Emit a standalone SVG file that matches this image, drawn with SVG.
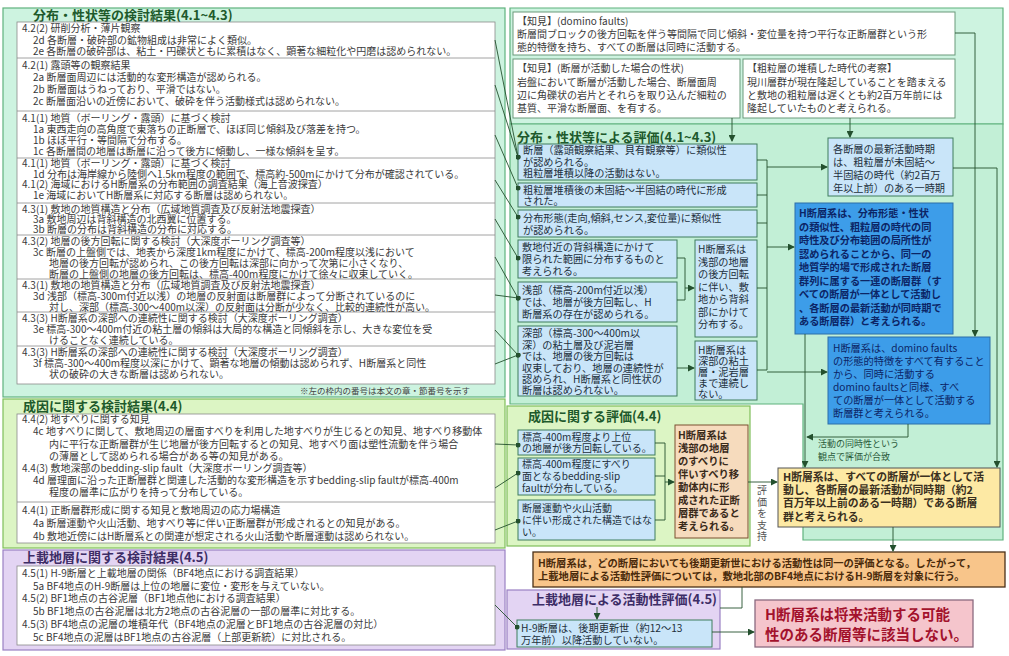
<svg xmlns="http://www.w3.org/2000/svg" width="1009" height="656" viewBox="0 0 1009 656">
<defs>
<marker id="dot" viewBox="0 0 6 6" refX="3" refY="3" markerWidth="5" markerHeight="5" markerUnits="userSpaceOnUse"><circle cx="3" cy="3" r="3" fill="#24502e"/></marker>
<marker id="arr" viewBox="0 0 8 8" refX="7" refY="4" markerWidth="7" markerHeight="7" markerUnits="userSpaceOnUse" orient="auto"><path d="M0,0 L8,4 L0,8 z" fill="#24502e"/></marker>
</defs>
<style>
text { font-family: "Noto Sans CJK JP", "Noto Sans", sans-serif; }
.t { font-size: 10px; fill: #3a3a3a; }
.tb { font-size: 10.2px; fill: #22303c; }
.s { font-size: 8.5px; fill: #444; }
.h { font-size: 13px; font-weight: bold; fill: #1e5a2c; }
.hp { font-size: 13px; font-weight: bold; fill: #3d2d66; }
.pg { fill: #cdf3e0; stroke: #5fb27d; stroke-width: 1.2; }
.pg2 { fill: #c2efd6; stroke: #5fb27d; stroke-width: 1.2; }
.py { fill: #dcf5c4; stroke: #7fbf5a; stroke-width: 1.2; }
.pl { fill: #e3d4f3; stroke: #9a80c4; stroke-width: 1.2; }
.wb { fill: #fff; stroke: #8a8a8a; stroke-width: 0.8; }
.kb { fill: #fff; stroke: #6a9a7a; stroke-width: 1; }
.dv { stroke: #8a8a8a; stroke-width: 0.8; }
.bl { fill: #c9e5f9; stroke: #3f7d5c; stroke-width: 1; }
.bd { fill: #3d9de9; stroke: #2c6ea8; stroke-width: 1; }
.c { fill: none; stroke: #24502e; stroke-width: 0.9; }
</style>

<!-- Left panel 1 -->
<g id="left-distribution">
<rect class="pg" x="3" y="8" width="502" height="389"/>
<text class="h" x="33" y="20">分布・性状等の検討結果(4.1~4.3)</text>
<rect class="wb" x="17" y="22" width="478" height="362"/>
<line class="dv" x1="17" y1="58" x2="495" y2="58"/>
<line class="dv" x1="17" y1="111" x2="495" y2="111"/>
<line class="dv" x1="17" y1="158" x2="495" y2="158"/>
<line class="dv" x1="17" y1="203" x2="495" y2="203"/>
<line class="dv" x1="17" y1="235" x2="495" y2="235"/>
<line class="dv" x1="17" y1="279" x2="495" y2="279"/>
<line class="dv" x1="17" y1="312" x2="495" y2="312"/>
<line class="dv" x1="17" y1="346" x2="495" y2="346"/>
<text class="t" x="22" y="32">4.2(2) 研削分析・薄片観察</text>
<text class="t" x="33" y="43.5">2d 各断層・破砕部の鉱物組成は非常によく類似。</text>
<text class="t" x="33" y="55">2e 各断層の破砕部は、粘土・円礫状ともに累積はなく、顕著な細粒化や円磨は認められない。</text>
<text class="t" x="22" y="69">4.2(1) 露頭等の観察結果</text>
<text class="t" x="33" y="81">2a 断層面周辺には活動的な変形構造が認められる。</text>
<text class="t" x="33" y="93">2b 断層面はうねっており、平滑ではない。</text>
<text class="t" x="33" y="105">2c 断層面沿いの近傍において、破砕を伴う活動様式は認められない。</text>
<text class="t" x="22" y="122">4.1(1) 地質（ボーリング・露頭）に基づく検討</text>
<text class="t" x="33" y="133">1a 東西走向の高角度で東落ちの正断層で、ほぼ同じ傾斜及び落差を持つ。</text>
<text class="t" x="33" y="144">1b ほぼ平行・等間隔で分布する。</text>
<text class="t" x="33" y="155">1c 各断層間の地層は断層に沿って後方に傾動し、一様な傾斜を呈す。</text>
<text class="t" x="22" y="167">4.1(1) 地質（ボーリング・露頭）に基づく検討</text>
<text class="t" x="33" y="177.5">1d 分布は海岸線から陸側へ1.5km程度の範囲で、標高約-500mにかけて分布が確認されている。</text>
<text class="t" x="22" y="188">4.1(2) 海域におけるH断層系の分布範囲の調査結果（海上音波探査）</text>
<text class="t" x="33" y="198.5">1e 海域においてH断層系に対応する断層は認められない。</text>
<text class="t" x="22" y="212.5">4.3(1) 敷地の地質構造と分布（広域地質調査及び反射法地震探査）</text>
<text class="t" x="33" y="223">3a 敷地周辺は背斜構造の北西翼に位置する。</text>
<text class="t" x="33" y="233">3b 断層の分布は背斜構造の分布に対応する。</text>
<text class="t" x="22" y="245">4.3(2) 地層の後方回転に関する検討（大深度ボーリング調査等）</text>
<text class="t" x="33" y="256">3c 断層の上盤側では、地表から深度1km程度にかけて、標高-200m程度以浅において</text>
<text class="t" x="49" y="267">地層の後方回転が認められ、この後方回転は深部に向かって次第に小さくなり、</text>
<text class="t" x="49" y="278">断層の上盤側の地層の後方回転は、標高-400m程度にかけて徐々に収束していく。</text>
<text class="t" x="22" y="289">4.3(1) 敷地の地質構造と分布（広域地質調査及び反射法地震探査）</text>
<text class="t" x="33" y="300">3d 浅部（標高-300m付近以浅）の地層の反射面は断層群によって分断されているのに</text>
<text class="t" x="49" y="311">対し、深部（標高-300～400m以深）の反射面は分断が少なく、比較的連続性が高い。</text>
<text class="t" x="22" y="322">4.3(3) H断層系の深部への連続性に関する検討（大深度ボーリング調査）</text>
<text class="t" x="33" y="333">3e 標高-300～400m付近の粘土層の傾斜は大局的な構造と同傾斜を示し、大きな変位を受</text>
<text class="t" x="49" y="344">けることなく連続している。</text>
<text class="t" x="22" y="356">4.3(3) H断層系の深部への連続性に関する検討（大深度ボーリング調査）</text>
<text class="t" x="33" y="367">3f 標高-300～400m程度以深にかけて、顕著な地層の傾動は認められず、H断層系と同性</text>
<text class="t" x="49" y="378">状の破砕の大きな断層は認められない。</text>
<text class="s" x="300" y="393.5">※左の枠内の番号は本文の章・節番号を示す</text>
</g>

<!-- Left panel 2 -->
<g id="left-origin">
<rect class="py" x="3" y="399" width="502" height="149"/>
<text class="h" x="23" y="411">成因に関する検討結果(4.4)</text>
<rect class="wb" x="17" y="414" width="478" height="129"/>
<line class="dv" x1="17" y1="502" x2="495" y2="502"/>
<text class="t" x="22" y="423">4.4(2) 地すべりに関する知見</text>
<text class="t" x="33" y="435">4c 地すべりに関して、敷地周辺の層面すべりを利用した地すべりが生じるとの知見、地すべり移動体</text>
<text class="t" x="49" y="447.5">内に平行な正断層群が生じ地層が後方回転するとの知見、地すべり面は塑性流動を伴う場合</text>
<text class="t" x="49" y="460">の薄層として認められる場合がある等の知見がある。</text>
<text class="t" x="22" y="472">4.4(3) 敷地深部のbedding-slip fault（大深度ボーリング調査等）</text>
<text class="t" x="33" y="484">4d 層理面に沿った正断層群と関連した活動的な変形構造を示すbedding-slip faultが標高-400m</text>
<text class="t" x="49" y="496">程度の層準に広がりを持って分布している。</text>
<text class="t" x="22" y="514">4.4(1) 正断層群形成に関する知見と敷地周辺の応力場構造</text>
<text class="t" x="33" y="527">4a 断層運動や火山活動、地すべり等に伴い正断層群が形成されるとの知見がある。</text>
<text class="t" x="33" y="540">4b 敷地近傍にはH断層系との関連が想定される火山活動や断層運動は認められない。</text>
</g>

<!-- Left panel 3 -->
<g id="left-overlying">
<rect class="pl" x="3" y="550" width="502" height="100"/>
<text class="hp" x="23" y="562">上載地層に関する検討結果(4.5)</text>
<rect class="wb" x="17" y="566" width="478" height="79"/>
<text class="t" x="22" y="577">4.5(1) H-9断層と上載地層の関係（BF4地点における調査結果）</text>
<text class="t" x="33" y="589.5">5a BF4地点のH-9断層は上位の地層に変位・変形を与えていない。</text>
<text class="t" x="22" y="602">4.5(2) BF1地点の古谷泥層（BF1地点他における調査結果）</text>
<text class="t" x="33" y="615">5b BF1地点の古谷泥層は北方2地点の古谷泥層の一部の層準に対比する。</text>
<text class="t" x="22" y="628">4.5(3) BF4地点の泥層の堆積年代（BF4地点の泥層とBF1地点の古谷泥層の対比）</text>
<text class="t" x="33" y="641">5c BF4地点の泥層はBF1地点の古谷泥層（上部更新統）に対比される。</text>
</g>

<!-- Right big green panel -->
<g id="right-panel">
<path class="pg" d="M510,8 H1003 V124 H510 Z"/>
<path class="pg2" d="M510,124 H1003 V540 H803 V404 H510 Z"/>
<text class="h" x="517" y="142">分布・性状等による評価(4.1~4.3)</text>
</g>

<g id="k-domino">
<rect class="kb" x="513" y="12" width="442" height="43"/>
<text class="t" x="517" y="25">【知見】(domino faults)</text>
<text class="t" x="517" y="38">断層間ブロックの後方回転を伴う等間隔で同じ傾斜・変位量を持つ平行な正断層群という形</text>
<text class="t" x="517" y="51">態的特徴を持ち、すべての断層は同時に活動する。</text>
</g>
<g id="k-fault">
<rect class="kb" x="513" y="59" width="227" height="59"/>
<text class="t" x="517" y="72">【知見】(断層が活動した場合の性状)</text>
<text class="t" x="517" y="86">岩盤において断層が活動した場合、断層面周</text>
<text class="t" x="517" y="99">辺に角礫状の岩片とそれらを取り込んだ細粒の</text>
<text class="t" x="517" y="112">基質、平滑な断層面、を有する。</text>
</g>
<g id="k-coarse">
<rect class="kb" x="743" y="59" width="212" height="59"/>
<text class="t" x="747" y="72">【粗粒層の堆積した時代の考察】</text>
<text class="t" x="747" y="86">現川層群が現在隆起していることを踏まえる</text>
<text class="t" x="747" y="99">と敷地の粗粒層は遅くとも約2百万年前には</text>
<text class="t" x="747" y="112">隆起していたものと考えられる。</text>
</g>

<g id="b1"><rect class="bl" x="518" y="144" width="239" height="36"/>
<text class="tb" x="523" y="154">断層（露頭観察結果、貝有観察等）に類似性</text>
<text class="tb" x="523" y="165.5">が認められる。</text>
<text class="tb" x="523" y="177">粗粒層堆積以降の活動はない。</text></g>
<g id="b2"><rect class="bl" x="518" y="183" width="239" height="24"/>
<text class="tb" x="523" y="193.5">粗粒層堆積後の未固結～半固結の時代に形成</text>
<text class="tb" x="523" y="204.5">された。</text></g>
<g id="b3"><rect class="bl" x="518" y="210" width="239" height="27"/>
<text class="tb" x="523" y="221.5">分布形態(走向,傾斜,センス,変位量)に類似性</text>
<text class="tb" x="523" y="233.5">が認められる。</text></g>
<g id="b4"><rect class="bl" x="518" y="240" width="159" height="38"/>
<text class="tb" x="522" y="251">敷地付近の背斜構造にかけて</text>
<text class="tb" x="522" y="263">限られた範囲に分布するものと</text>
<text class="tb" x="522" y="275">考えられる。</text></g>
<g id="b5"><rect class="bl" x="518" y="282" width="159" height="40"/>
<text class="tb" x="522" y="294">浅部（標高-200m付近以浅）</text>
<text class="tb" x="522" y="306">では、地層が後方回転し、H</text>
<text class="tb" x="522" y="318">断層系の存在が認められる。</text></g>
<g id="b6"><rect class="bl" x="518" y="326" width="159" height="70"/>
<text class="tb" x="522" y="337">深部（標高-300～400m以</text>
<text class="tb" x="522" y="348.5">深）の粘土層及び泥岩層</text>
<text class="tb" x="522" y="360">では、地層の後方回転は</text>
<text class="tb" x="522" y="371.5">収束しており、地層の連続性が</text>
<text class="tb" x="522" y="383">認められ、H断層系と同性状の</text>
<text class="tb" x="522" y="394">断層は認められない。</text></g>
<g id="b7"><rect class="bl" x="695" y="240" width="62" height="97"/>
<text class="tb" x="698" y="253">H断層系は</text>
<text class="tb" x="698" y="265.5">浅部の地層</text>
<text class="tb" x="698" y="278">の後方回転</text>
<text class="tb" x="698" y="290.5">に伴い、敷</text>
<text class="tb" x="698" y="303">地から背斜</text>
<text class="tb" x="698" y="315.5">部にかけて</text>
<text class="tb" x="698" y="328">分布する。</text></g>
<g id="b8"><rect class="bl" x="695" y="341" width="62" height="59"/>
<text class="tb" x="698" y="354">H断層系は</text>
<text class="tb" x="698" y="365">深部の粘土</text>
<text class="tb" x="698" y="376">層・泥岩層</text>
<text class="tb" x="698" y="387">まで連続し</text>
<text class="tb" x="698" y="398">ない。</text></g>

<g id="r1"><rect class="bl" x="828" y="138" width="125" height="58"/>
<text class="tb" x="833" y="153">各断層の最新活動時期</text>
<text class="tb" x="833" y="166">は、粗粒層が未固結～</text>
<text class="tb" x="833" y="179">半固結の時代（約2百万</text>
<text class="tb" x="833" y="192">年以上前）のある一時期</text></g>
<g id="r2"><rect class="bd" x="795" y="203" width="158" height="131"/>
<g style="font-size:10.2px;font-weight:bold;fill:#0c2566">
<text x="799" y="217">H断層系は、分布形態・性状</text>
<text x="799" y="230.5">の類似性、粗粒層の時代の同</text>
<text x="799" y="244">時性及び分布範囲の局所性が</text>
<text x="799" y="257.5">認められることから、同一の</text>
<text x="799" y="271">地質学的場で形成された断層</text>
<text x="799" y="284.5">群列に属する一連の断層群（す</text>
<text x="799" y="298">べての断層が一体として活動し</text>
<text x="799" y="311.5">、各断層の最新活動が同時期で</text>
<text x="799" y="325">ある断層群）と考えられる。</text>
</g></g>
<g id="r3"><rect class="bd" x="828" y="337" width="162" height="87"/>
<g style="font-size:10.2px;fill:#0c2566">
<text x="833" y="352">H断層系は、domino faults</text>
<text x="833" y="365">の形態的特徴をすべて有すること</text>
<text x="833" y="378">から、同時に活動する</text>
<text x="833" y="391">domino faultsと同様、すべ</text>
<text x="833" y="404">ての断層が一体として活動する</text>
<text x="833" y="417">断層群と考えられる。</text>
</g></g>
<g id="note-sync"><text style="font-size:9px;fill:#2a5a3a" x="818" y="447">活動の同時性という</text>
<text style="font-size:9px;fill:#2a5a3a" x="818" y="460">観点で評価が合致</text></g>
<g id="r4"><rect x="778" y="468" width="222" height="59" fill="#fde9a4" stroke="#555" stroke-width="1"/>
<g style="font-size:10.8px;font-weight:bold;fill:#3a3020">
<text x="783" y="481">H断層系は、すべての断層が一体として活</text>
<text x="783" y="494">動し、各断層の最新活動が同時期（約2</text>
<text x="783" y="507">百万年以上前のある一時期）である断層</text>
<text x="783" y="521">群と考えられる。</text>
</g></g>

<g id="origin-eval">
<rect class="py" x="507" y="406" width="243" height="140"/>
<text class="h" x="528" y="421">成因に関する評価(4.4)</text>
</g>
<g id="c1"><rect class="bl" x="518" y="430" width="137" height="25"/>
<text class="tb" style="font-size:10px" x="522" y="440.5">標高-400m程度より上位</text>
<text class="tb" style="font-size:10px" x="522" y="452">の地層が後方回転している。</text></g>
<g id="c2"><rect class="bl" x="518" y="458" width="137" height="37"/>
<text class="tb" style="font-size:10px" x="522" y="468">標高-400m程度にすべり</text>
<text class="tb" style="font-size:10px" x="522" y="480">面となるbedding-slip</text>
<text class="tb" style="font-size:10px" x="522" y="492">faultが分布している。</text></g>
<g id="c3"><rect class="bl" x="518" y="500" width="137" height="40"/>
<text class="tb" style="font-size:10px" x="522" y="512">断層運動や火山活動</text>
<text class="tb" style="font-size:10px" x="522" y="524">に伴い形成された構造ではな</text>
<text class="tb" style="font-size:10px" x="522" y="536">い。</text></g>
<g id="c4"><rect x="675" y="425" width="73" height="113" fill="#f6dbbd" stroke="#7a5030" stroke-width="1"/>
<g style="font-size:10.3px;font-weight:bold;fill:#3a2a1a">
<text x="678" y="439">H断層系は</text>
<text x="678" y="452">浅部の地層</text>
<text x="678" y="465">のすべりに</text>
<text x="678" y="478">伴いすべり移</text>
<text x="678" y="491">動体内に形</text>
<text x="678" y="504">成された正断</text>
<text x="678" y="517">層群であると</text>
<text x="678" y="530">考えられる。</text>
</g></g>
<g id="support-label"><text style="font-size:10px;fill:#555">
<tspan x="757" y="494">評</tspan><tspan x="757" y="505.5">価</tspan><tspan x="757" y="517">を</tspan><tspan x="757" y="528.5">支</tspan><tspan x="757" y="540">持</tspan></text></g>

<g id="conclusion-orange"><rect x="533" y="552" width="472" height="35" fill="#f8c58a" stroke="#4a3018" stroke-width="1.3"/>
<g style="font-size:10.3px;font-weight:bold;fill:#4a2a0a">
<text x="538" y="567">H断層系は，どの断層においても後期更新世における活動性は同一の評価となる。したがって，</text>
<text x="538" y="580">上載地層による活動性評価については，敷地北部のBF4地点におけるH-9断層を対象に行う。</text>
</g></g>

<g id="overlying-eval">
<rect class="pl" x="507" y="590" width="213" height="59"/>
<text class="hp" x="532" y="604">上載地層による活動性評価(4.5)</text>
</g>
<g id="d1"><rect class="bl" x="517" y="620" width="195" height="27"/>
<text class="tb" x="521" y="631.5">H-9断層は、後期更新世（約12～13</text>
<text class="tb" x="521" y="644">万年前）以降活動していない。</text></g>
<g id="final"><rect x="755" y="600" width="218" height="47" fill="#f5c5cc" stroke="#8a6a80" stroke-width="1.3"/>
<text style="font-size:14.5px;font-weight:bold;fill:#a3122c" x="765" y="620">H断層系は将来活動する可能</text>
<text style="font-size:14.5px;font-weight:bold;fill:#a3122c" x="765" y="640">性のある断層等に該当しない。</text></g>

<g id="connectors">
<path class="c" marker-end="url(#dot)" d="M495,40 L518,157"/>
<path class="c" marker-end="url(#dot)" d="M495,85 L518,157"/>
<path class="c" marker-end="url(#dot)" d="M495,135 L518,188"/>
<path class="c" marker-end="url(#dot)" d="M495,180 L518,217"/>
<path class="c" marker-end="url(#dot)" d="M495,219 L518,258"/>
<path class="c" marker-end="url(#dot)" d="M495,257 L518,298"/>
<path class="c" marker-end="url(#dot)" d="M495,295 L518,298"/>
<path class="c" marker-end="url(#dot)" d="M495,330 L518,355"/>
<path class="c" marker-end="url(#dot)" d="M495,364 L518,355"/>
<path class="c" marker-end="url(#dot)" d="M495,444 L518,445"/>
<path class="c" marker-end="url(#dot)" d="M495,488 L518,473"/>
<path class="c" marker-end="url(#dot)" d="M495,530 L518,521"/>
<path class="c" marker-end="url(#dot)" d="M495,605 L517,627"/>
<path class="c" d="M757,160 H767 M757,195 H767 M757,223 H767 M757,288 H767 M757,370 H767 M767,160 V370"/>
<path class="c" marker-end="url(#arr)" d="M767,167 H827"/>
<path class="c" marker-end="url(#arr)" d="M767,247 H794"/>
<path class="c" marker-end="url(#arr)" d="M767,372 H827"/>
<path class="c" d="M677,258 H685 M677,300 H685 M685,258 V300"/>
<path class="c" marker-end="url(#arr)" d="M685,288 H694"/>
<path class="c" marker-end="url(#arr)" d="M677,368 H694"/>
<path class="c" marker-end="url(#arr)" d="M953,168 H997 V467"/>
<path class="c" marker-end="url(#arr)" d="M955,33 H975 V336"/>
<path class="c" marker-end="url(#arr)" d="M850,118 V137"/>
<path class="c" marker-end="url(#arr)" d="M732,118 V141"/>
<path class="c" marker-end="url(#arr)" d="M805,334 V467"/>
<path class="c" marker-end="url(#arr)" d="M908,424 V437 H807"/>
<path class="c" d="M655,443 H665 M655,476 H665 M655,520 H665 M665,443 V520"/>
<path class="c" marker-end="url(#arr)" d="M665,482 H674"/>
<path class="c" marker-end="url(#arr)" d="M748,482 H777"/>
<path class="c" marker-end="url(#arr)" d="M893,527 V551"/>
<path class="c" d="M742,587 V608 H720"/>
<path class="c" marker-end="url(#arr)" d="M597,607 V619"/>
<path class="c" marker-end="url(#arr)" d="M712,632 H754"/>
</g>
</svg>
